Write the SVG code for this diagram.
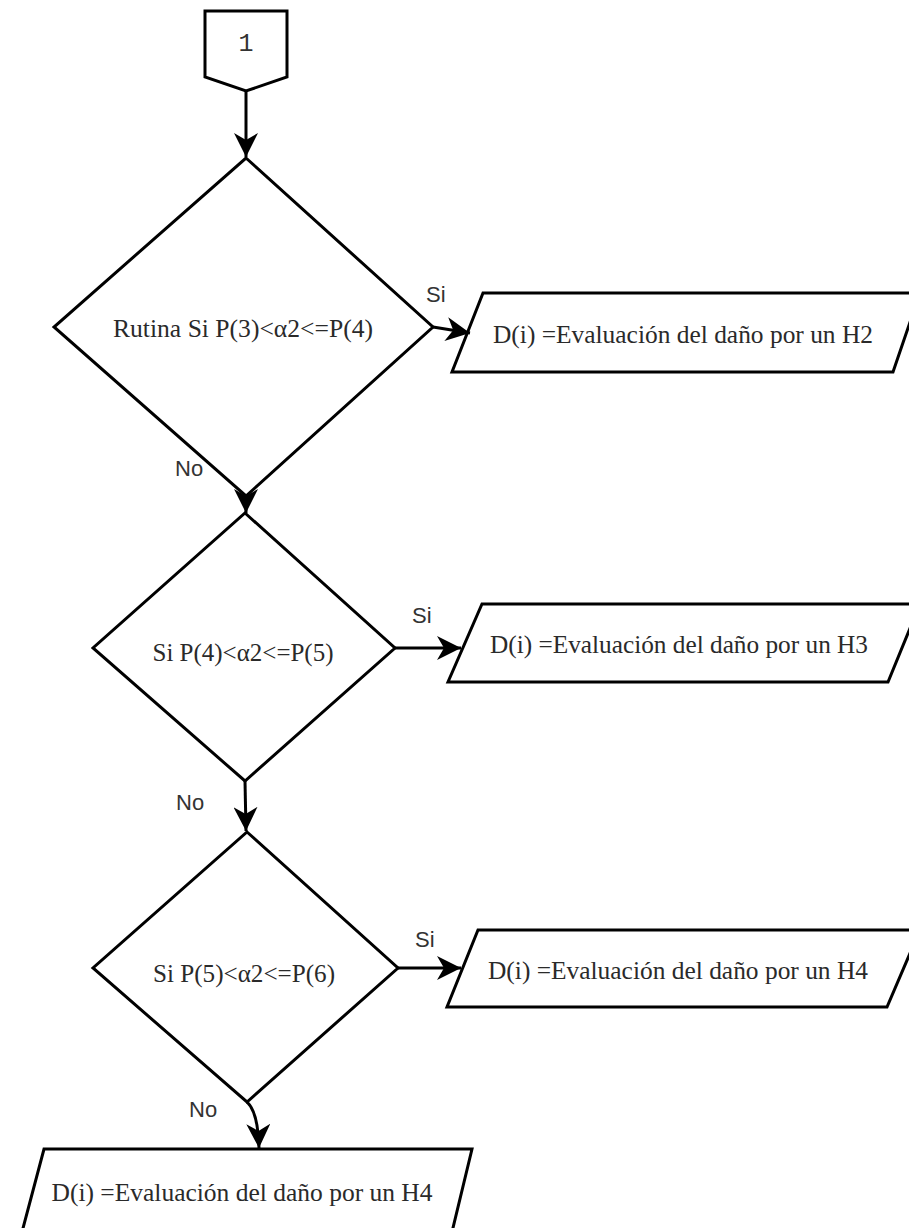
<svg xmlns="http://www.w3.org/2000/svg" width="909" height="1228" viewBox="0 0 909 1228">
  <style>
    .shape { fill: #ffffff; stroke: #000000; stroke-width: 3; stroke-linejoin: miter; }
    .edge { fill: none; stroke: #000000; stroke-width: 3; }
    .body { font-family: "Liberation Serif", "Times New Roman", serif; font-size: 25px; fill: #2a2a2a; text-anchor: middle; }
    .label { font-family: "Liberation Sans", Arial, sans-serif; font-size: 22px; fill: #333333; }
    .mono { font-family: "Liberation Mono", "Courier New", monospace; font-size: 25px; fill: #333333; text-anchor: middle; }
  </style>
  <defs>
    <!-- notched filled arrowhead shared by every connector -->
    <marker id="arrow" markerUnits="userSpaceOnUse" markerWidth="26" markerHeight="24" refX="24" refY="12" orient="auto">
      <path d="M0,0 L24,12 L0,24 L7,12 z" fill="#000000"/>
    </marker>
  </defs>
  <rect width="909" height="1228" fill="#ffffff"/>

  <!-- off-page connector -->
  <g id="start">
    <path class="shape" d="M205,11 L287,11 L287,77 L246,91 L205,77 Z"/>
    <text class="mono" x="246" y="51">1</text>
  </g>

  <!-- decision 1 -->
  <g id="dec1">
    <path class="shape" d="M246,158 L433,327 L246,496 L54,327 Z"/>
    <text class="body" x="243" y="337" textLength="260" lengthAdjust="spacingAndGlyphs">Rutina Si P(3)&lt;α2&lt;=P(4)</text>
  </g>

  <!-- output H2 -->
  <g id="out1">
    <path class="shape" d="M483,293 L920,293 L893,372 L452,372 Z"/>
    <text class="body" x="683" y="343" textLength="380" lengthAdjust="spacingAndGlyphs">D(i) =Evaluación del daño por un H2</text>
  </g>

  <!-- decision 2 -->
  <g id="dec2">
    <path class="shape" d="M245,513 L395,648 L245,781 L93,648 Z"/>
    <text class="body" x="243" y="661" textLength="181" lengthAdjust="spacingAndGlyphs">Si P(4)&lt;α2&lt;=P(5)</text>
  </g>

  <!-- output H3 -->
  <g id="out2">
    <path class="shape" d="M482,604 L920,604 L888,682 L448,682 Z"/>
    <text class="body" x="679" y="653" textLength="378" lengthAdjust="spacingAndGlyphs">D(i) =Evaluación del daño por un H3</text>
  </g>

  <!-- decision 3 -->
  <g id="dec3">
    <path class="shape" d="M247,832 L398,968 L247,1102 L93,968 Z"/>
    <text class="body" x="244" y="982" textLength="182" lengthAdjust="spacingAndGlyphs">Si P(5)&lt;α2&lt;=P(6)</text>
  </g>

  <!-- output H4 (right) -->
  <g id="out3">
    <path class="shape" d="M478,930 L920,930 L887,1007 L447,1007 Z"/>
    <text class="body" x="678" y="979" textLength="380" lengthAdjust="spacingAndGlyphs">D(i) =Evaluación del daño por un H4</text>
  </g>

  <!-- output H4 (bottom) -->
  <g id="out4">
    <path class="shape" d="M44,1149 L472,1149 L452,1232 L22,1232 Z"/>
    <text class="body" x="242" y="1201" textLength="381" lengthAdjust="spacingAndGlyphs">D(i) =Evaluación del daño por un H4</text>
  </g>

  <!-- connectors -->
  <g id="connectors">
    <path class="edge" d="M246,91 L246,157" marker-end="url(#arrow)"/>
    <path class="edge" d="M433,327 L470,333" marker-end="url(#arrow)"/>
    <path class="edge" d="M246,494 L246,513" marker-end="url(#arrow)"/>
    <path class="edge" d="M395,648 L461,648" marker-end="url(#arrow)"/>
    <path class="edge" d="M245,781 L246,831" marker-end="url(#arrow)"/>
    <path class="edge" d="M398,968 L461,968" marker-end="url(#arrow)"/>
    <path class="edge" d="M247,1102 Q258,1112 259,1148" marker-end="url(#arrow)"/>
    <text class="label" x="426" y="302">Si</text>
    <text class="label" x="175" y="476">No</text>
    <text class="label" x="412" y="623">Si</text>
    <text class="label" x="176" y="810">No</text>
    <text class="label" x="415" y="947">Si</text>
    <text class="label" x="189" y="1117">No</text>
  </g>
</svg>
